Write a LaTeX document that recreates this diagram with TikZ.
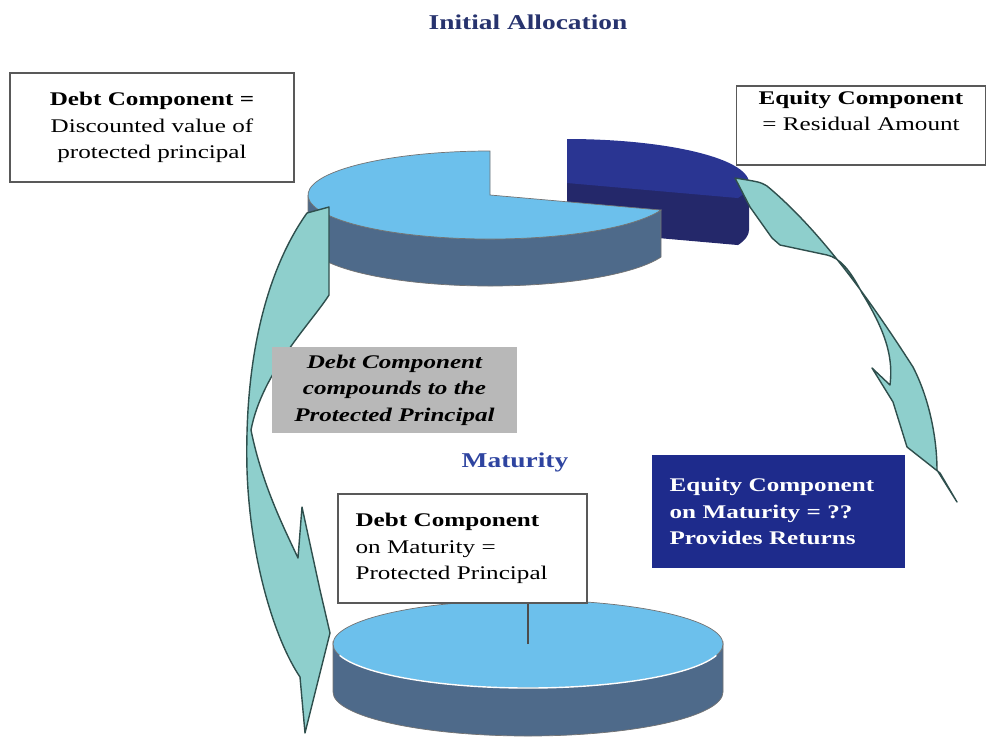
\documentclass[tikz,border=0pt]{standalone}
\usepackage{fontspec}
\setmainfont{Liberation Serif}[FakeStretch=1.3]
\usetikzlibrary{calc}

\definecolor{piesky}{HTML}{6CC0EC}
\definecolor{pieslate}{HTML}{4E6A8A}
\definecolor{navytop}{HTML}{2A3592}
\definecolor{navyside}{HTML}{24286A}
\definecolor{arrowteal}{HTML}{8ECFCC}
\definecolor{arrowedge}{HTML}{2F4F4D}
\definecolor{boxnavy}{HTML}{1E2B8C}
\definecolor{titleblue}{HTML}{27336E}
\definecolor{maturityblue}{HTML}{2E44A0}

\tikzset{
  txt/.style={font=\fontsize{11}{15}\selectfont},
  whitebox/.style={txt, draw=black!65, line width=0.8pt, fill=white, inner xsep=10pt, inner ysep=2.5pt},
  navybox/.style={txt, fill=boxnavy, text=white, inner xsep=10pt, inner ysep=2.5pt},
  greybox/.style={txt, fill=black!28, inner xsep=5pt, inner ysep=2.5pt},
  piedge/.style={draw=black!55, line width=0.4pt},
  bentarrow/.style={fill=arrowteal, draw=arrowedge, line width=0.8pt, line join=round},
  toprim/.style={x radius=182, y radius=44},
  botrim/.style={x radius=195, y radius=44}
}

\begin{document}
\begin{tikzpicture}[x=0.02cm, y=-0.02cm]
    \useasboundingbox (0,0) rectangle (988,738);

    %% Initial allocation
    \node[txt, font=\fontsize{12}{14}\selectfont\bfseries, text=titleblue] (title) at (528,22) {Initial Allocation};

    \coordinate (toppie) at (490,195);
    \coordinate (cutpie) at (567,183);

    % Equity slice, pulled out
    \fill[navyside] (cutpie) -- ++(0,47)
        -- ($(cutpie)+(20:182 and 44)+(0,47)$) arc[start angle=20, end angle=0, toprim]
        -- ++(0,-47) -- cycle;
    \fill[navytop] (cutpie) -- ++(20:182 and 44)
        arc[start angle=20, end angle=-90, toprim] -- cycle;

    % Debt slice
    \filldraw[pieslate, piedge] ($(toppie)+(20:182 and 44)$)
        arc[start angle=20, end angle=180, toprim] -- ++(0,47)
        arc[start angle=180, end angle=20, toprim] -- cycle;
    \filldraw[piesky, piedge] (toppie) -- ++(20:182 and 44)
        arc[start angle=20, end angle=270, toprim] -- cycle;

    \node[whitebox, align=center, text width=141pt, minimum width=161.6pt, minimum height=62pt] (debtnow) at (152,127.5)
        {\textbf{Debt Component =}\\Discounted value of\\protected principal};
    \node[whitebox, align=center, text width=122pt, minimum width=142pt, minimum height=45pt] (equitynow) at (861,125.5)
        {\textbf{Equity Component}\\= Residual Amount\rule[-17pt]{0pt}{0pt}};

    % Curved arrows
    \filldraw[bentarrow] (307,213) -- (329,207) -- (329,295)
        .. controls (312,322) and (262,372) .. (251,430)
        .. controls (262,485) and (285,530) .. (298,558)
        -- (302,507) -- (320,590) -- (330,633)
        -- (305,733) -- (300,677)
        .. controls (275,640) and (250,560) .. (247,470)
        .. controls (244,350) and (270,265) .. (307,213) -- cycle;
    \filldraw[bentarrow] (735,178) .. controls (760,182) .. (767,186)
        .. controls (820,230) and (870,300) .. (913,367)
        .. controls (930,400) and (937,440) .. (937,470)
        -- (957,502) -- (940,473) -- (907,447)
        -- (893,402) -- (872,368) -- (890,385)
        .. controls (893,360) and (888,335) .. (862,293)
        .. controls (850,270) and (840,258) .. (827,255)
        -- (780,245) -- (772,238) -- (750,207) -- cycle;

    \node[greybox, align=center, text width=130pt, minimum width=139pt, minimum height=49pt] (compound) at (394.5,390)
        {\textbf{\itshape Debt Component\\compounds to the\\Protected Principal}};

    %% Maturity
    \node[txt, font=\fontsize{12}{14}\selectfont\bfseries, text=maturityblue] (maturity) at (515,462) {Maturity};

    \coordinate (botpie) at (528,644);
    \filldraw[pieslate, piedge] ($(botpie)+(0:195 and 44)$)
        arc[start angle=0, end angle=180, botrim] -- ++(0,48)
        arc[start angle=180, end angle=0, botrim] -- cycle;
    \filldraw[piesky, piedge] (botpie) ellipse[botrim];
    \draw[white, line width=0.8pt] ($(botpie)+(15:195 and 44)$)
        arc[start angle=15, end angle=165, botrim];

    \node[whitebox, align=left, text width=121.7pt, minimum width=141.7pt, minimum height=62pt] (debtend) at (462.5,548.5)
        {\textbf{Debt Component}\\on Maturity =\\Protected Principal};
    \draw[black!70, line width=0.6pt] (botpie) -- (botpie |- debtend.south);

    \node[navybox, align=left, text width=124pt, minimum width=144pt, minimum height=64pt] (equityend) at (778.5,511.5)
        {\textbf{Equity Component}\\\textbf{on Maturity = ??}\\\textbf{Provides Returns}};

\end{tikzpicture}
\end{document}
